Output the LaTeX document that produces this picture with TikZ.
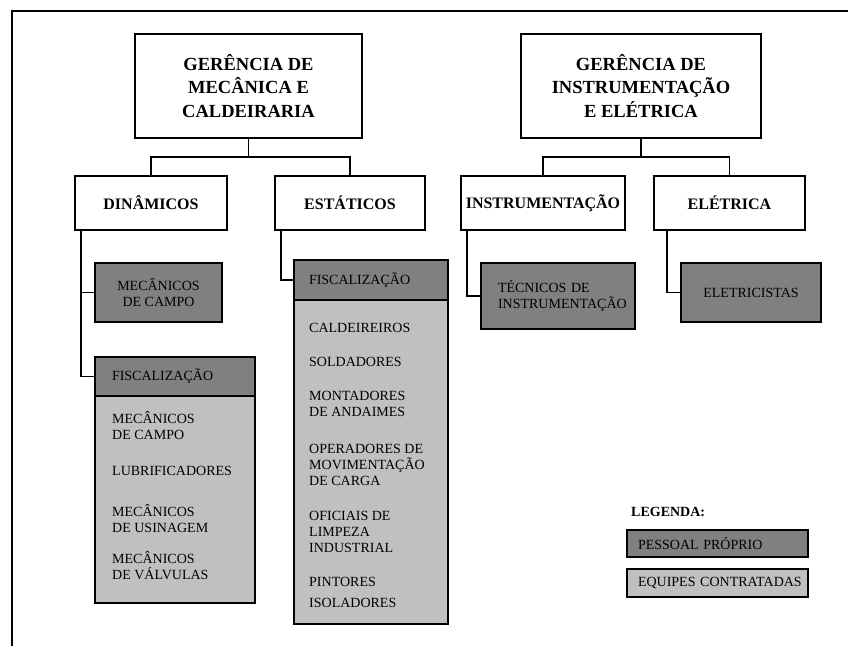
\documentclass[tikz,border=0pt]{standalone}
\usepackage{fontspec}
\setmainfont{Liberation Serif}
\usetikzlibrary{calc}
\definecolor{darkg}{HTML}{808080}
\definecolor{lightg}{HTML}{C0C0C0}
\begin{document}
\begin{tikzpicture}[x=1pt,y=-1pt,
  box/.style={draw=black, line width=1.5pt, inner sep=0pt, minimum width=#1},
  titlebox/.style={box=#1, minimum height=104pt, align=center, fill=white,
    font=\bfseries\fontsize{18.5}{23.5}\selectfont},
  unitbox/.style={box=#1, minimum height=54pt, fill=white,
    font=\bfseries\fontsize{16}{19}\selectfont},
  ownbox/.style={box=#1, fill=darkg, font=\fontsize{14}{16}\selectfont},
  hirebox/.style={box=#1, fill=lightg},
  item/.style={anchor=west, inner sep=0pt, align=left, font=\fontsize{14}{16}\selectfont},
  conn/.style={line width=1.6pt, black},
  frame/.style={line width=2.2pt, black}]
\useasboundingbox (0,0) rectangle (848,646);
\draw[frame] (12,646) -- (12,11) -- (848,11);

% top level
\node[titlebox=227pt] (gmc) at (248.5,86) {GERÊNCIA DE\\MECÂNICA E\\CALDEIRARIA};
\node[titlebox=240pt] (gie) at (641,86) {GERÊNCIA DE\\INSTRUMENTAÇÃO\\E ELÉTRICA};

% units
\node[unitbox=152pt] (dyn) at (151,203) {DINÂMICOS};
\node[unitbox=150pt] (est) at (350,203) {ESTÁTICOS};
\node[unitbox=164pt] (ins) at (543,203) {INSTRUMENTAÇÃO};
\node[unitbox=151pt] (ele) at (729.5,203) {ELÉTRICA};

% dinamicos
\node[ownbox=127pt, minimum height=59pt, align=center] (mcampo) at (158.5,292.5) {MECÂNICOS\\DE CAMPO};
\node[hirebox=160pt, minimum height=207pt] (body1) at (175,499.5) {};
\node[ownbox=160pt, minimum height=39pt, inner xsep=17pt, text width=126pt, align=left] (fisc1) at (175,376.5) {FISCALIZAÇÃO};
\node[item] (d1) at (112,425.5) {MECÂNICOS\\DE CAMPO};
\node[item] (d2) at (112,471) {LUBRIFICADORES};
\node[item] (d3) at (112,519) {MECÂNICOS\\DE USINAGEM};
\node[item] (d4) at (112,566) {MECÂNICOS\\DE VÁLVULAS};

% estaticos
\node[hirebox=154pt, minimum height=324pt] (body2) at (371,462) {};
\node[ownbox=154pt, minimum height=40pt, inner xsep=15pt, text width=124pt, align=left] (fisc2) at (371,280) {FISCALIZAÇÃO};
\node[item] (e1) at (309,328) {CALDEIREIROS};
\node[item] (e2) at (309,362) {SOLDADORES};
\node[item] (e3) at (309,403.5) {MONTADORES\\DE ANDAIMES};
\node[item] (e4) at (309,465) {OPERADORES DE\\MOVIMENTAÇÃO\\DE CARGA};
\node[item] (e5) at (309,532) {OFICIAIS DE\\LIMPEZA\\INDUSTRIAL};
\node[item] (e6) at (309,582) {PINTORES};
\node[item] (e7) at (309,603) {ISOLADORES};

% instrumentacao / eletrica
\node[ownbox=154pt, minimum height=66pt, inner xsep=17pt, text width=120pt, align=left] (tec) at (558,296) {TÉCNICOS DE\\INSTRUMENTAÇÃO};
\node[ownbox=140pt, minimum height=59pt] (eletr) at (751,292.5) {ELETRICISTAS};

% legend
\node[anchor=west, inner sep=0pt, font=\bfseries\fontsize{14}{16}\selectfont] (leg) at (631,512) {LEGENDA:};
\node[ownbox=181pt, minimum height=27pt, inner xsep=11pt, text width=159pt, align=left] (leg1) at (717.5,543.5) {PESSOAL PRÓPRIO};
\node[hirebox=181pt, minimum height=28pt, inner xsep=11pt, text width=159pt, align=left, font=\fontsize{14}{16}\selectfont] (leg2) at (717.5,583) {\mbox{EQUIPES CONTRATADAS}\hss};

% connectors
\draw[conn] (gmc.south) -- ++(0,18) coordinate (j1);
\draw[conn] (dyn.north) |- (j1) -| (est.north);
\draw[conn] (gie.south) -- ++(0,18) coordinate (j2);
\draw[conn] (ins.north) |- (j2) -| (ele.north);
\draw[conn] ($(dyn.south west)+(7,0)$) coordinate (dd) |- (mcampo.west);
\draw[conn] (dd) |- (fisc1.west);
\draw[conn] ($(est.south west)+(7,0)$) |- (fisc2.west);
\draw[conn] ($(ins.south west)+(7,0)$) |- (tec.west);
\draw[conn] ($(ele.south west)+(14,0)$) |- (eletr.west);
\end{tikzpicture}
\end{document}
